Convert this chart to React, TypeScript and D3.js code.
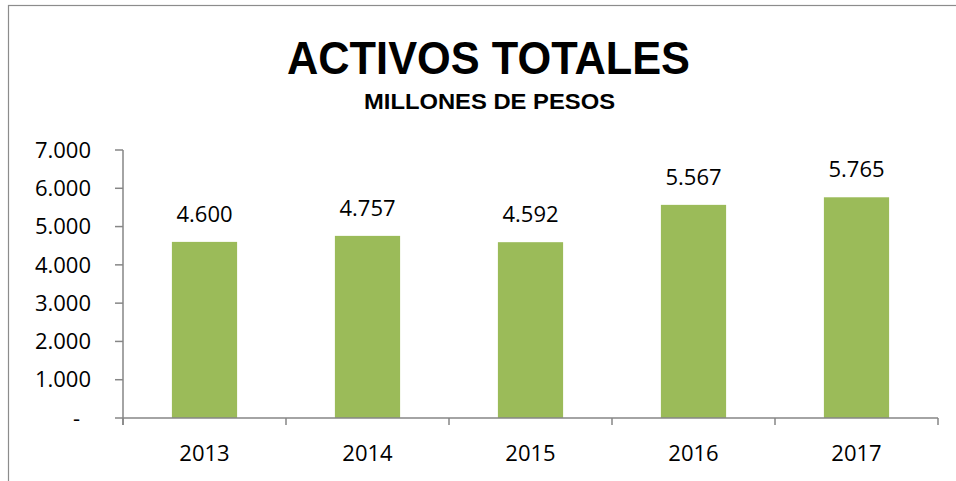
import * as d3 from "d3";

const YEARS = ["2013", "2014", "2015", "2016", "2017"];
const ACTIVOS = [4600, 4757, 4592, 5567, 5765];
const Y_TICKS = [0, 1000, 2000, 3000, 4000, 5000, 6000, 7000];

const WIDTH = 956;
const HEIGHT = 481;
const MARGIN = { top: 150, right: 18, bottom: 63, left: 123 };
const BAR_COLOR = "#9bbb59";
const AXIS_COLOR = "#868686";
const FONT = "'Open Sans', sans-serif";

const esLocale = d3.formatLocale({
  decimal: ",",
  thousands: ".",
  grouping: [3],
  currency: ["$", ""],
});
const fmt = esLocale.format(",");

function App() {
  const x0 = MARGIN.left;
  const x1 = WIDTH - MARGIN.right;
  const yBase = HEIGHT - MARGIN.bottom;

  const xScale = d3.scaleBand().domain(YEARS).range([x0, x1]).padding(0);
  const yScale = d3.scaleLinear().domain([0, 7000]).range([yBase, MARGIN.top]);
  const barW = xScale.bandwidth() * 0.4;

  const bounds = [...YEARS.map((y) => xScale(y)!), x1];

  return (
    <svg
      width={WIDTH}
      height={HEIGHT}
      style={{ position: "absolute", left: 0, top: 0, background: "#fff" }}
    >
      {/* chart frame, cropped at right and bottom */}
      <rect x={8.5} y={5.5} width={980} height={500} fill="#fff" stroke="#8c8c8c" strokeWidth={1.2} />

      <text
        x={488.5}
        y={74}
        textAnchor="middle"
        fontFamily="'Liberation Sans', Arial, sans-serif"
        fontWeight="bold"
        fontSize={47}
        textLength={403}
        lengthAdjust="spacingAndGlyphs"
      >
        ACTIVOS TOTALES
      </text>
      <text
        x={489.5}
        y={109}
        textAnchor="middle"
        fontFamily="'Liberation Sans', Arial, sans-serif"
        fontWeight="bold"
        fontSize={22}
        textLength={251}
        lengthAdjust="spacingAndGlyphs"
      >
        MILLONES DE PESOS
      </text>

      {/* bars */}
      {YEARS.map((yr, i) => {
        const cx = xScale(yr)! + xScale.bandwidth() / 2;
        return (
          <g key={yr}>
            <rect
              x={cx - barW / 2}
              y={yScale(ACTIVOS[i])}
              width={barW}
              height={yBase - yScale(ACTIVOS[i])}
              fill={BAR_COLOR}
            />
            <text
              x={cx}
              y={yScale(ACTIVOS[i]) - 20}
              textAnchor="middle"
              fontFamily={FONT}
              fontSize={22}
              fill="#000"
            >
              {fmt(ACTIVOS[i])}
            </text>
            <text x={cx} y={461} textAnchor="middle" fontFamily={FONT} fontSize={22} fill="#000">
              {yr}
            </text>
          </g>
        );
      })}

      {/* y axis */}
      <line x1={x0} x2={x0} y1={yScale(7000)} y2={yBase + 7} stroke={AXIS_COLOR} strokeWidth={1.5} />
      {Y_TICKS.map((t) => (
        <g key={t}>
          <line x1={x0 - 8} x2={x0} y1={yScale(t)} y2={yScale(t)} stroke={AXIS_COLOR} strokeWidth={1.5} />
          <text
            x={t === 0 ? x0 - 43 : x0 - 32}
            y={yScale(t)}
            dy="0.35em"
            textAnchor="end"
            fontFamily={FONT}
            fontSize={22}
            fill="#000"
          >
            {t === 0 ? "-" : fmt(t)}
          </text>
        </g>
      ))}

      {/* x axis */}
      <line x1={x0} x2={x1} y1={yBase} y2={yBase} stroke={AXIS_COLOR} strokeWidth={1.5} />
      {bounds.map((bx, i) => (
        <line key={i} x1={bx} x2={bx} y1={yBase} y2={yBase + 7} stroke={AXIS_COLOR} strokeWidth={1.5} />
      ))}
    </svg>
  );
}

export default App;
